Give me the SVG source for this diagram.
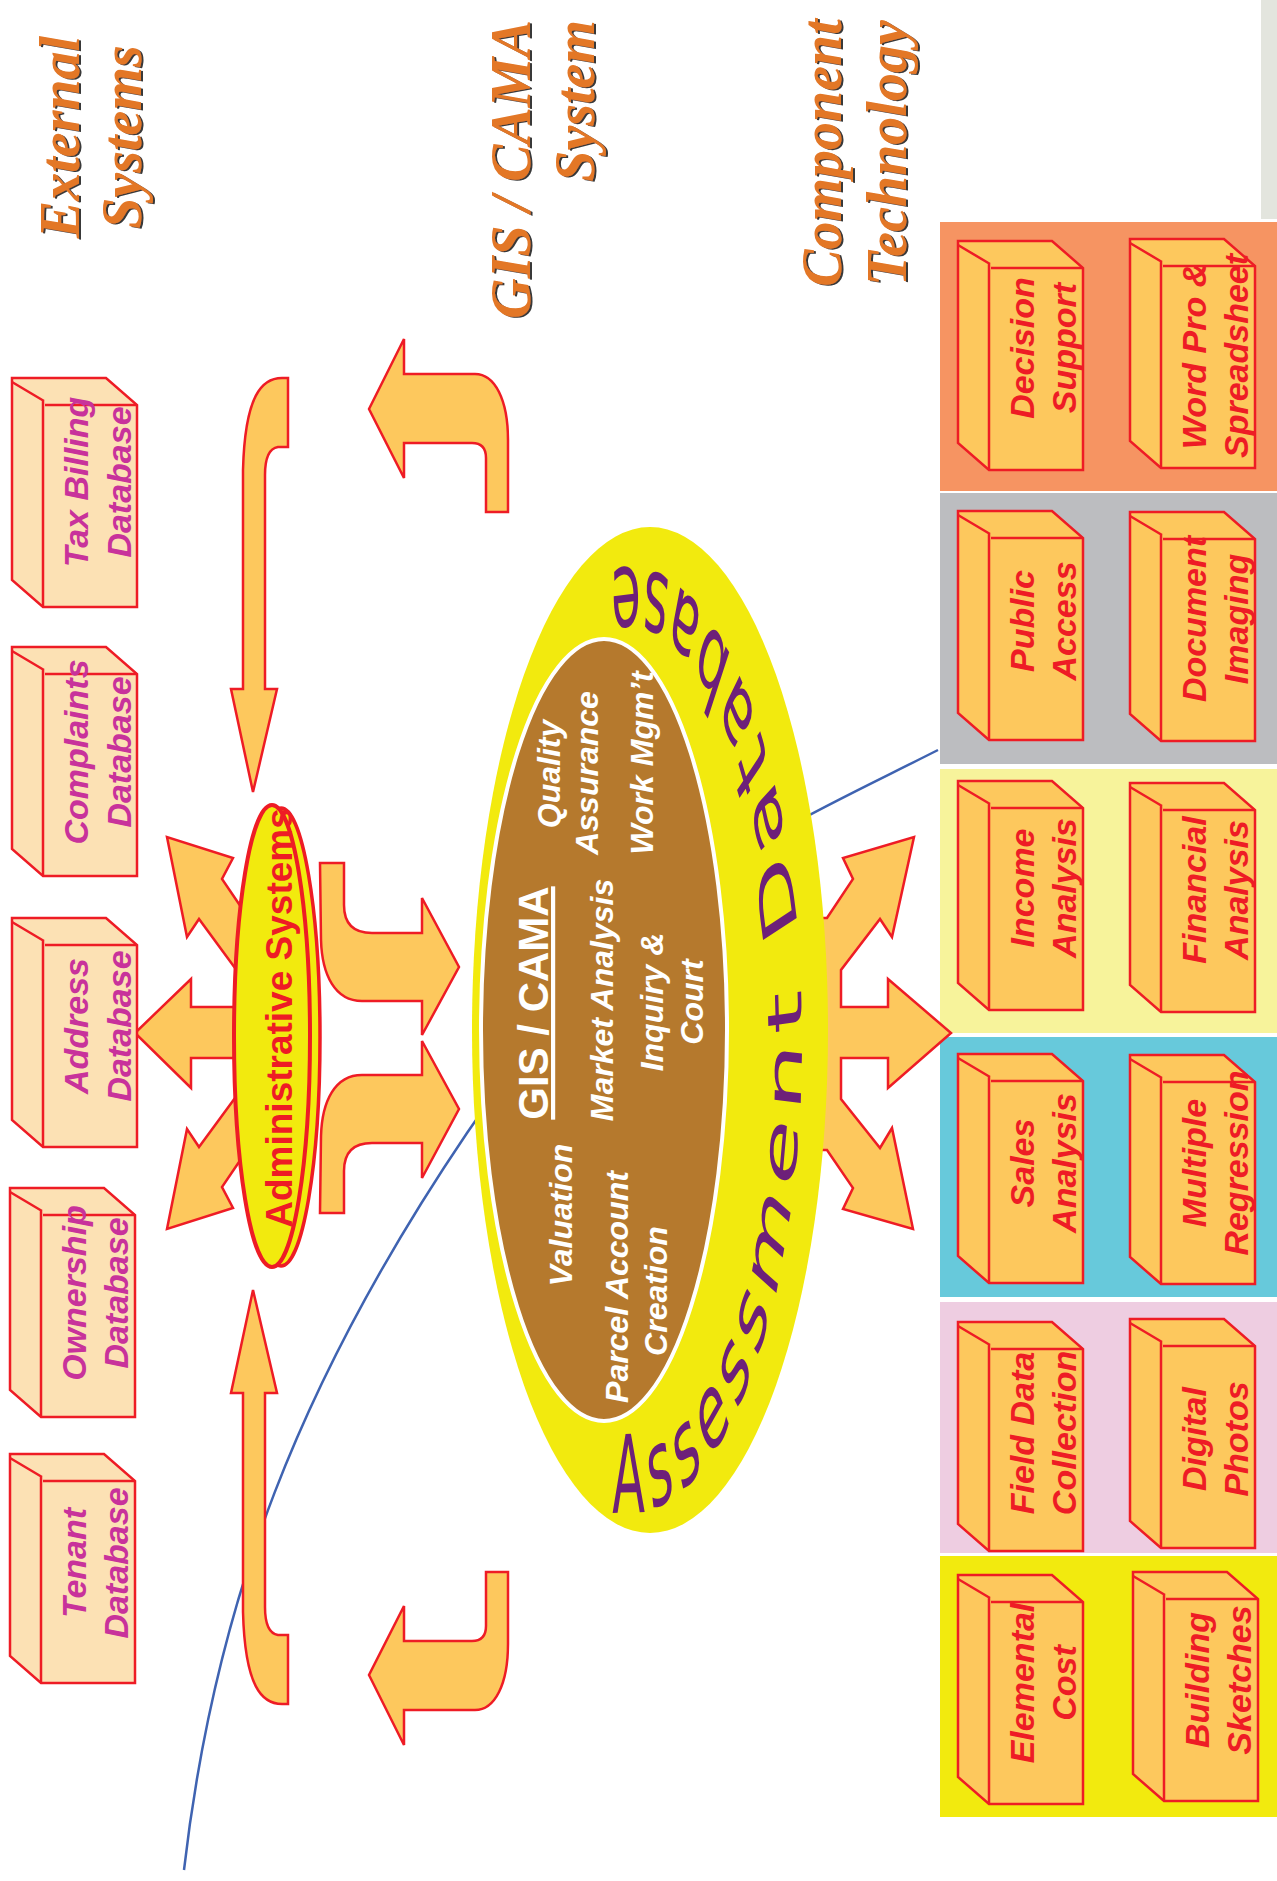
<svg xmlns="http://www.w3.org/2000/svg" width="1277" height="1881" viewBox="0 0 1277 1881">
<defs>
<style>
.title{font-family:"Liberation Serif","Times New Roman",serif;font-weight:bold;font-style:italic;font-size:56px;fill:#E37727}
.db{fill:#FCE1B4;stroke:#EE1C25;stroke-width:2.5}
.comp{fill:#FDC85D;stroke:#EE1C25;stroke-width:2.5}
.dbt{font-family:"Liberation Sans",Arial,sans-serif;font-weight:bold;font-style:italic;font-size:34px;fill:#C8329B;text-anchor:middle}
.ct{font-family:"Liberation Sans",Arial,sans-serif;font-weight:bold;font-style:italic;font-size:34px;fill:#EE1C25;text-anchor:middle}
.arrow{fill:#FDC85D;stroke:#EE1C25;stroke-width:2.5;stroke-linejoin:miter}
.core{font-family:"Liberation Sans",Arial,sans-serif;font-weight:bold;font-style:italic;font-size:32px;fill:#FFFFFF;text-anchor:middle}
.ring{font-family:"DejaVu Sans",sans-serif;font-size:48px;fill:#6D2079;letter-spacing:5.9px}
.admin{font-family:"Liberation Sans",Arial,sans-serif;font-weight:bold;font-size:37px;fill:#EE1C25;text-anchor:middle}
</style>
<filter id="shadow" x="-10%" y="-10%" width="130%" height="130%">
<feDropShadow dx="2" dy="1" stdDeviation="0.6" flood-color="#222222" flood-opacity="0.9"/>
</filter>
<g id="box">
<path d="M-31,-27H63L94,0V202H0L-31,175Z"/>
<path fill="none" d="M-31,-23L1,-4M0,-4V202M2,0H94"/>
</g>
<path id="ringPath" d="M-172,0A172,210 0 0 0 172,0A172,210 0 0 0 -172,0"/>
</defs>

<rect width="1277" height="1881" fill="#FFFFFF"/>

<g id="panels">
<rect x="1261" y="0" width="16" height="219" fill="#E3E5DE"/>
<rect x="940" y="222" width="337" height="269" fill="#F69462"/>
<rect x="940" y="493" width="337" height="271" fill="#BCBDC0"/>
<rect x="940" y="769" width="337" height="264" fill="#F7F39B"/>
<rect x="940" y="1037" width="337" height="260" fill="#67C9DB"/>
<rect x="940" y="1302" width="337" height="251" fill="#EECDE1"/>
<rect x="940" y="1556" width="337" height="261" fill="#F2EA0E"/>
</g>

<g id="titles">
<g filter="url(#shadow)"><text class="title" text-anchor="middle" transform="translate(79,137) rotate(-90)"><tspan x="0" y="0">External</tspan><tspan x="0" y="62">Systems</tspan></text></g>
<g filter="url(#shadow)"><text class="title" text-anchor="end" transform="translate(530,20) rotate(-90)"><tspan x="0" y="0">GIS / CAMA</tspan><tspan x="0" y="64">System</tspan></text></g>
<g filter="url(#shadow)"><text class="title" text-anchor="middle" transform="translate(841,153) rotate(-90)"><tspan x="0" y="0">Component</tspan><tspan x="0" y="65">Technology</tspan></text></g>
</g>

<g id="connectors">
<path d="M184,1870C215,1600 300,1380 467,1133S760,840 938,750" fill="none" stroke="#3F63B1" stroke-width="2.5"/>
<path class="arrow" d="M288,378L288,447L278,447Q265,449 265,475L265,689L277,689L253,792L231,689L243,689L243,470C245,395 262,378 282,378Z"/>
<path class="arrow" d="M288,1704L288,1635L278,1635Q265,1633 265,1607L265,1393L277,1393L253,1290L231,1393L243,1393L243,1612C245,1687 262,1704 282,1704Z"/>
<path class="arrow" d="M369,409L404,339L404,374L475,374C495,374 508,400 508,440L508,512L486,512L486,458Q486,443 472,443L404,443L404,478Z"/>
<path class="arrow" d="M369,1675L404,1745L404,1710L475,1710C495,1710 508,1684 508,1644L508,1572L486,1572L486,1626Q486,1641 472,1641L404,1641L404,1606Z"/>
<polygon class="arrow" points="253,924 239,904 222,879 233,858 167,837 187,937 199,919 235,968 253,992"/>
<polygon class="arrow" points="255,1007 191,1007 191,979 135,1033 191,1088 191,1058 255,1058"/>
<polygon class="arrow" points="253,1142 239,1162 222,1187 233,1208 167,1229 187,1129 199,1147 235,1098 253,1074"/>
<path class="arrow" d="M320,863L344,863L344,905Q344,933 372,933L422,933L422,898L459,967L422,1035L422,1001L362,1001C335,1001 322,975 321,940Z"/>
<path class="arrow" d="M320,1213L344,1213L344,1171Q344,1143 372,1143L422,1143L422,1178L459,1109L422,1041L422,1075L362,1075C335,1075 322,1101 321,1136Z"/>
<path class="arrow" d="M810,918L827,918L853,879L843,858L914,837L892,937L880,919L841,970L841,1007L888,1007L888,979L951,1033L888,1088L888,1058L841,1058L841,1099L880,1148L892,1128L913,1229L843,1209L853,1188L827,1150L810,1150Z"/>
</g>

<g id="admin-systems">
<ellipse cx="281" cy="1037" rx="39" ry="229" fill="#F2EA0E" stroke="#EE1C25" stroke-width="3.5"/>
<ellipse cx="272" cy="1036" rx="38" ry="231" fill="#F2EA0E" stroke="#EE1C25" stroke-width="4"/>
<text class="admin" transform="translate(292,1018) rotate(-90)">Administrative Systems</text>
</g>

<g id="assessment-database">
<ellipse cx="650" cy="1030" rx="178" ry="503" fill="#F2EA0E"/>
<ellipse cx="604" cy="1030" rx="123" ry="391" fill="#B5792D" stroke="#FFFFFF" stroke-width="4"/>
<text class="core" style="font-style:normal;font-size:42px;text-decoration:underline" transform="translate(548,1003) rotate(-90)">GIS / CAMA</text>
<text class="core" transform="translate(560,774) rotate(-90)">Quality</text>
<text class="core" transform="translate(598,773) rotate(-90)">Assurance</text>
<text class="core" transform="translate(653,763) rotate(-90)">Work Mgm’t</text>
<text class="core" transform="translate(613,1000) rotate(-90)">Market Analysis</text>
<text class="core" transform="translate(663,1002) rotate(-90)">Inquiry &amp;</text>
<text class="core" transform="translate(703,1002) rotate(-90)">Court</text>
<text class="core" transform="translate(572,1215) rotate(-90)">Valuation</text>
<text class="core" transform="translate(628,1287) rotate(-90)">Parcel Account</text>
<text class="core" transform="translate(667,1291) rotate(-90)">Creation</text>
<g transform="translate(630,1040) scale(1,2.25)">
<text class="ring"><textPath href="#ringPath" startOffset="283">Assessment Database</textPath></text>
</g>
</g>

<g id="db-tax-billing"><use href="#box" x="43" y="405" class="db"/><text class="dbt" transform="translate(88,482) rotate(-90)"><tspan x="0" y="0">Tax Billing</tspan><tspan x="0" y="43">Database</tspan></text></g>
<g id="db-complaints"><use href="#box" x="43" y="674" class="db"/><text class="dbt" transform="translate(88,752) rotate(-90)"><tspan x="0" y="0">Complaints</tspan><tspan x="0" y="43">Database</tspan></text></g>
<g id="db-address"><use href="#box" x="43" y="945" class="db"/><text class="dbt" transform="translate(88,1026) rotate(-90)"><tspan x="0" y="0">Address</tspan><tspan x="0" y="43">Database</tspan></text></g>
<g id="db-ownership"><use href="#box" x="41" y="1215" class="db"/><text class="dbt" transform="translate(86,1293) rotate(-90)"><tspan x="0" y="0">Ownership</tspan><tspan x="0" y="42">Database</tspan></text></g>
<g id="db-tenant"><use href="#box" x="41" y="1481" class="db"/><text class="dbt" transform="translate(86,1563) rotate(-90)"><tspan x="0" y="0">Tenant</tspan><tspan x="0" y="42">Database</tspan></text></g>

<g id="c-decision-support"><use href="#box" x="989" y="268" class="comp"/><text class="ct" transform="translate(1034,348) rotate(-90)"><tspan x="0" y="0">Decision</tspan><tspan x="0" y="42">Support</tspan></text></g>
<g id="c-word-pro"><use href="#box" x="1161" y="266" class="comp"/><text class="ct" transform="translate(1206,356) rotate(-90)"><tspan x="0" y="0">Word Pro &amp;</tspan><tspan x="0" y="42">Spreadsheet</tspan></text></g>
<g id="c-public-access"><use href="#box" x="989" y="538" class="comp"/><text class="ct" transform="translate(1034,621) rotate(-90)"><tspan x="0" y="0">Public</tspan><tspan x="0" y="42">Access</tspan></text></g>
<g id="c-document-imaging"><use href="#box" x="1161" y="539" class="comp"/><text class="ct" transform="translate(1206,619) rotate(-90)"><tspan x="0" y="0">Document</tspan><tspan x="0" y="42">Imaging</tspan></text></g>
<g id="c-income-analysis"><use href="#box" x="989" y="808" class="comp"/><text class="ct" transform="translate(1034,888) rotate(-90)"><tspan x="0" y="0">Income</tspan><tspan x="0" y="42">Analysis</tspan></text></g>
<g id="c-financial-analysis"><use href="#box" x="1161" y="810" class="comp"/><text class="ct" transform="translate(1206,890) rotate(-90)"><tspan x="0" y="0">Financial</tspan><tspan x="0" y="42">Analysis</tspan></text></g>
<g id="c-sales-analysis"><use href="#box" x="989" y="1081" class="comp"/><text class="ct" transform="translate(1034,1163) rotate(-90)"><tspan x="0" y="0">Sales</tspan><tspan x="0" y="42">Analysis</tspan></text></g>
<g id="c-multiple-regression"><use href="#box" x="1161" y="1082" class="comp"/><text class="ct" transform="translate(1206,1163) rotate(-90)"><tspan x="0" y="0">Multiple</tspan><tspan x="0" y="42">Regression</tspan></text></g>
<g id="c-field-data"><use href="#box" x="989" y="1349" class="comp"/><text class="ct" transform="translate(1034,1433) rotate(-90)"><tspan x="0" y="0">Field Data</tspan><tspan x="0" y="42">Collection</tspan></text></g>
<g id="c-digital-photos"><use href="#box" x="1161" y="1346" class="comp"/><text class="ct" transform="translate(1206,1439) rotate(-90)"><tspan x="0" y="0">Digital</tspan><tspan x="0" y="42">Photos</tspan></text></g>
<g id="c-elemental-cost"><use href="#box" x="989" y="1602" class="comp"/><text class="ct" transform="translate(1034,1683) rotate(-90)"><tspan x="0" y="0">Elemental</tspan><tspan x="0" y="42">Cost</tspan></text></g>
<g id="c-building-sketches"><use href="#box" x="1164" y="1599" class="comp"/><text class="ct" transform="translate(1209,1680) rotate(-90)"><tspan x="0" y="0">Building</tspan><tspan x="0" y="42">Sketches</tspan></text></g>
</svg>
